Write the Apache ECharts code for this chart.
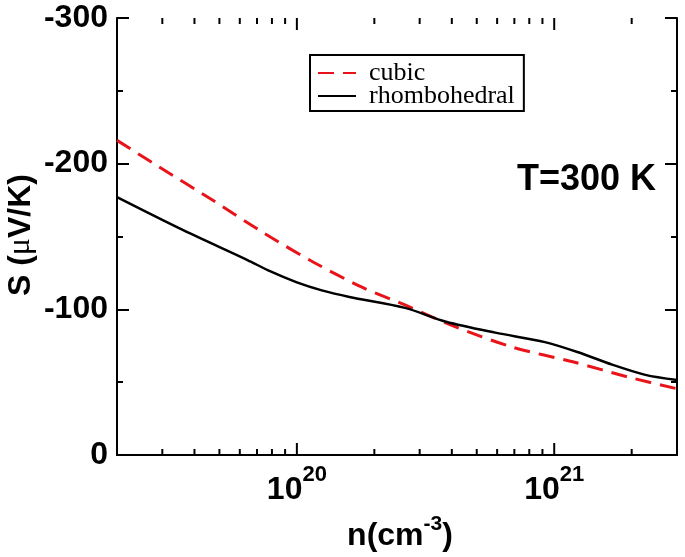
<!DOCTYPE html>
<html>
<head>
<meta charset="utf-8">
<script src="https://cdn.jsdelivr.net/npm/echarts@6/dist/echarts.min.js"></script>
<style>
html,body{margin:0;padding:0;background:#fff;}
#chart{width:685px;height:557px;}
</style>
</head>
<body>
<div id="chart"></div>
<script>
// ---- data ----
const nCubic = [2.0e19, 2.9e19, 4.7e19, 7.5e19, 1.17e20, 1.8e20, 2.63e20, 4.0e20, 6.9e20, 1.18e21, 1.94e21, 3.0e21];
const sCubic = [-216, -198, -175, -152, -132, -115, -103, -89, -74, -64, -53.5, -45.5];
const nRhombo = [2.0e19, 3.6e19, 6.4e19, 7.9e19, 1.0e20, 1.25e20, 1.6e20, 2.63e20, 3.8e20, 5.9e20, 9.2e20, 1.24e21, 1.68e21, 2.26e21, 3.0e21];
const sRhombo = [-177, -154.5, -134, -126, -118.5, -113, -108.5, -101, -91.5, -84, -77.5, -70.5, -62, -55, -51.5];
const seriesNames = ['cubic', 'rhombohedral'];
const xMin = 2e19, xMax = 3e21;
const yMin = -300, yMax = 0, yStep = 100;
const xMajorTicks = [1e20, 1e21];
const xMinorTicks = [3e19, 4e19, 5e19, 6e19, 7e19, 8e19, 9e19,
  2e20, 3e20, 4e20, 5e20, 6e20, 7e20, 8e20, 9e20, 2e21];
const annotation = 'T=300 K';

const zip = (a, b) => a.map((v, i) => [v, b[i]]);
const SANS = '"Liberation Sans", Arial, sans-serif';
const SERIF = '"Liberation Serif", "Times New Roman", serif';

const chart = echarts.init(document.getElementById('chart'), null, {renderer: 'canvas'});

const xLabelFmt = v => {
  const e = Math.log10(v);
  if (Math.abs(e - Math.round(e)) > 1e-6) return '';
  return '{b|10}{s|' + Math.round(e) + '}';
};

const baseX = {
  type: 'log', logBase: 10, min: xMin, max: xMax,
  axisLine: {show: true, lineStyle: {color: '#000', width: 2}},
  axisTick: {show: false},
  splitLine: {show: false}
};
const baseY = {
  type: 'value', min: yMin, max: yMax, interval: yStep, inverse: true,
  axisLine: {show: true, lineStyle: {color: '#000', width: 2}},
  axisTick: {show: true, inside: true, length: 12, lineStyle: {color: '#000', width: 2}},
  minorTick: {show: true, splitNumber: 2, length: 6, lineStyle: {color: '#000', width: 2}},
  splitLine: {show: false}
};

const tickSeries = (name, values, len) => ({
  name: name, type: 'custom', xAxisIndex: 0, yAxisIndex: 0, silent: true,
  clip: false,
  data: values.map(v => [v, yMax]),
  renderItem: function (params, api) {
    const n = api.value(0);
    const pb = api.coord([n, yMax]);
    const pt = api.coord([n, yMin]);
    return {
      type: 'group',
      children: [
        {type: 'line', shape: {x1: pb[0], y1: pb[1], x2: pb[0], y2: pb[1] - len}, style: {stroke: '#000', lineWidth: 2}},
        {type: 'line', shape: {x1: pt[0], y1: pt[1], x2: pt[0], y2: pt[1] + len}, style: {stroke: '#000', lineWidth: 2}}
      ]
    };
  },
  z: 5
});

const option = {
  backgroundColor: '#fff',
  animation: false,
  grid: {left: 117, right: 8, top: 18, bottom: 102, containLabel: false},
  xAxis: [
    Object.assign({}, baseX, {
      position: 'bottom',
      axisLabel: {
        show: true, margin: 9, showMinLabel: false, showMaxLabel: false,
        formatter: xLabelFmt,
        rich: {
          b: {fontFamily: SANS, fontWeight: 'bold', fontSize: 32, color: '#000', lineHeight: 42, verticalAlign: 'bottom'},
          s: {fontFamily: SANS, fontWeight: 'bold', fontSize: 22, color: '#000', lineHeight: 22, verticalAlign: 'top'}
        }
      }
    }),
    Object.assign({}, baseX, {position: 'top', axisLabel: {show: false}})
  ],
  yAxis: [
    Object.assign({}, baseY, {
      position: 'left',
      axisLabel: {show: true, margin: 9, fontFamily: SANS, fontWeight: 'bold', fontSize: 32, color: '#000'}
    }),
    Object.assign({}, baseY, {position: 'right', axisLabel: {show: false}})
  ],
  legend: {
    show: true,
    data: seriesNames,
    orient: 'vertical',
    left: 310, top: 55,
    padding: [5, 9, 2, 7],
    itemGap: -3,
    itemWidth: 38, itemHeight: 14,
    borderColor: '#000', borderWidth: 2,
    backgroundColor: '#fff',
    itemStyle: {opacity: 0},
    textStyle: {fontFamily: SERIF, fontSize: 26, color: '#000', padding: [0, 0, 0, 8]}
  },
  title: {
    text: annotation,
    left: 517, top: 162,
    padding: 0,
    textStyle: {fontFamily: SANS, fontWeight: 'bold', fontSize: 36, color: '#000'}
  },
  graphic: [
    {
      type: 'text', x: 21, y: 235, rotation: Math.PI / 2,
      style: {
        text: '{b|S (}{m|\u03bc}{b|V/K)}',
        textAlign: 'center', textVerticalAlign: 'middle',
        rich: {
          b: {fontFamily: SANS, fontWeight: 'bold', fontSize: 32, fill: '#000'},
          m: {fontFamily: SERIF, fontWeight: 'normal', fontSize: 32, fill: '#000'}
        }
      }
    },
    {
      type: 'text', x: 400, y: 514,
      style: {
        text: '{b|n(cm}{s|-3}{b|)}',
        textAlign: 'center', textVerticalAlign: 'top',
        rich: {
          b: {fontFamily: SANS, fontWeight: 'bold', fontSize: 32, fill: '#000', lineHeight: 38, verticalAlign: 'bottom'},
          s: {fontFamily: SANS, fontWeight: 'bold', fontSize: 21, fill: '#000', lineHeight: 22, verticalAlign: 'top'}
        }
      }
    }
  ],
  series: [
    {
      name: seriesNames[0], type: 'line', xAxisIndex: 0, yAxisIndex: 0,
      data: zip(nCubic, sCubic), smooth: 0.3, symbol: 'none',
      lineStyle: {color: '#e8141a', width: 3, type: [16, 9]},
      itemStyle: {color: '#e8141a'}, z: 3
    },
    {
      name: seriesNames[1], type: 'line', xAxisIndex: 0, yAxisIndex: 0,
      data: zip(nRhombo, sRhombo), smooth: 0.3, symbol: 'none',
      lineStyle: {color: '#000', width: 2.5, type: 'solid'},
      itemStyle: {color: '#000'}, z: 4
    },
    tickSeries('xmajor', xMajorTicks, 12),
    tickSeries('xminor', xMinorTicks, 6)
  ]
};
chart.setOption(option);
</script>
</body>
</html>
